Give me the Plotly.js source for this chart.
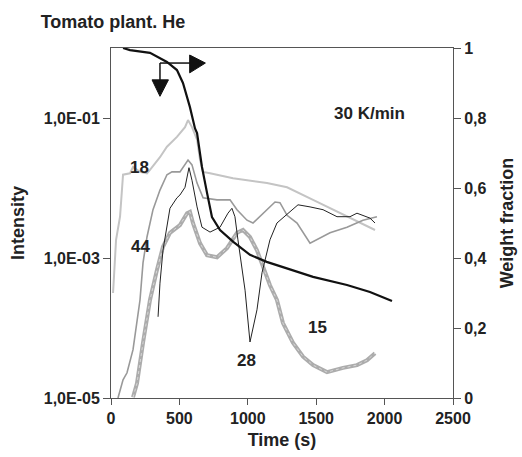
<!DOCTYPE html>
<html><head><meta charset="utf-8">
<script src="https://cdn.plot.ly/plotly-3.0.1.min.js"></script>
<style>html,body{margin:0;padding:0;background:#fff;}#chart{width:522px;height:457px;}</style>
</head><body><div id="chart"></div>
<script>
// m/z 18 (light grey)
const t18 = [15,37,66,88,139,161,212,263,285,358,409,482,541,563,592,629,651,673,724,892,1140,1287,1477,1674,1930];
const log18 = [-3.5,-2.74,-2.41,-1.81,-1.79,-1.70,-1.77,-1.79,-1.74,-1.56,-1.41,-1.27,-1.13,-1.03,-1.13,-1.31,-1.6,-1.77,-1.79,-1.86,-1.93,-1.99,-2.17,-2.36,-2.6];
// m/z 44 (medium grey)
const t44 = [51,88,117,161,212,234,263,307,358,409,446,504,563,592,629,673,775,870,921,994,1038,1111,1199,1235,1287,1360,1455,1601,1725,1842,1944];
const log44 = [-5.0,-4.74,-4.64,-4.31,-3.6,-3.07,-2.70,-2.31,-2.03,-1.81,-1.77,-1.77,-1.6,-1.67,-1.93,-2.14,-2.17,-2.17,-2.31,-2.46,-2.5,-2.36,-2.2,-2.21,-2.39,-2.5,-2.79,-2.64,-2.56,-2.46,-2.41];
// m/z 28 (black thin)
const t28 = [344,358,380,409,431,482,504,541,570,592,629,665,724,797,855,884,906,928,980,1016,1067,1104,1140,1162,1213,1287,1323,1367,1455,1550,1652,1747,1798,1842,1893,1930];
const log28 = [-3.84,-3.36,-2.89,-2.56,-2.29,-2.14,-2.1,-1.99,-1.71,-1.89,-2.27,-2.56,-2.63,-2.56,-2.36,-2.29,-2.41,-2.74,-3.46,-4.2,-3.74,-3.21,-2.89,-2.74,-2.5,-2.37,-2.31,-2.24,-2.27,-2.31,-2.41,-2.41,-2.36,-2.39,-2.43,-2.5];
// m/z 15 (hatched grey)
const t15 = [161,190,234,285,336,380,431,504,556,577,599,651,702,775,848,921,965,1016,1067,1111,1162,1213,1257,1330,1404,1477,1579,1696,1798,1871,1930];
const log15 = [-4.99,-4.79,-4.21,-3.6,-3.17,-2.84,-2.64,-2.53,-2.36,-2.34,-2.5,-2.79,-2.96,-2.99,-2.86,-2.64,-2.6,-2.7,-2.89,-3.13,-3.39,-3.6,-3.93,-4.21,-4.41,-4.53,-4.63,-4.57,-4.53,-4.46,-4.36];
// weight fraction (right axis)
const tW = [88,139,285,409,482,526,577,614,629,665,702,724,738,797,894,1016,1138,1257,1382,1477,1725,1893,2054];
const wW = [1.0,0.994,0.986,0.96,0.937,0.9,0.831,0.77,0.757,0.66,0.586,0.537,0.517,0.48,0.446,0.409,0.389,0.374,0.357,0.346,0.323,0.303,0.277];

// curve labels: [x (s), log10 intensity, text]
const curveLabels = [[205,-1.7,'18'],[212,-2.84,'44'],[987,-4.47,'28'],[1506,-3.99,'15'],[1886,-0.93,'30 K/min']];

const xTicks = [0,500,1000,1500,2000,2500];
const yLeftVals = [1e-5,1e-3,1e-1];
const yLeftText = ['1,0E-05','1,0E-03','1,0E-01'];
const yRightVals = [0,0.2,0.4,0.6,0.8,1];
const yRightText = ['0','0,2','0,4','0,6','0,8','1'];

const pw = a => a.map(v => Math.pow(10, v));
const F = 'Liberation Sans, Arial, sans-serif';
const TF = {family:F, size:16, color:'#222', weight:'bold'};

const traces = [
  {x:t18, y:pw(log18), mode:'lines', line:{color:'#c4c4c4', width:2}, yaxis:'y'},
  {x:t15, y:pw(log15), mode:'lines', line:{color:'#acacac', width:4}, yaxis:'y'},
  {x:t15, y:pw(log15), mode:'lines', line:{color:'#d8d8d8', width:1, dash:'dot'}, yaxis:'y'},
  {x:t44, y:pw(log44), mode:'lines', line:{color:'#999999', width:1.6}, yaxis:'y'},
  {x:t28, y:pw(log28), mode:'lines', line:{color:'#222222', width:1}, yaxis:'y'},
  {x:tW, y:wW, mode:'lines', line:{color:'#111111', width:2.2}, yaxis:'y2'}
];

const layout = {
  width:522, height:457,
  margin:{l:111, r:69, t:48, b:59},
  paper_bgcolor:'#fff', plot_bgcolor:'#fff',
  showlegend:false,
  font:{family:F, color:'#222'},
  title:{text:'<b>Tomato plant. He</b>', x:0.078, xanchor:'left', y:0.952, yanchor:'middle', font:{family:F, size:18, color:'#222'}},
  xaxis:{range:[0,2500], tickvals:xTicks, ticktext:xTicks.map(String), showgrid:false, zeroline:false,
    showline:true, linecolor:'#555', linewidth:1, mirror:true, ticks:'outside', ticklen:6, tickcolor:'#555',
    tickfont:TF,
    title:{text:'<b>Time (s)</b>', font:{family:F, size:18, color:'#222'}, standoff:7}},
  yaxis:{type:'log', range:[-5,0], tickvals:yLeftVals, ticktext:yLeftText, showgrid:false, zeroline:false,
    showline:true, linecolor:'#555', linewidth:1, ticks:'outside', ticklen:7, tickcolor:'#555',
    tickfont:TF,
    title:{text:'<b>Intensity</b>', font:{family:F, size:18, color:'#222'}, standoff:14}},
  yaxis2:{overlaying:'y', side:'right', range:[0,1], tickvals:yRightVals, ticktext:yRightText, showgrid:false, zeroline:false,
    showline:true, linecolor:'#555', linewidth:1, ticks:'outside', ticklen:7, tickcolor:'#555',
    tickfont:TF,
    title:{text:'<b>Weight fraction</b>', font:{family:F, size:18, color:'#222'}, standoff:14}},
  annotations: curveLabels.map(c => ({x:c[0], y:c[1], xref:'x', yref:'y', text:'<b>'+c[2]+'</b>', showarrow:false,
    font:{family:F, size:17, color:'#222'}})),
  shapes:[
    {type:'line', xref:'x', yref:'y2', x0:358, x1:580, y0:0.957, y1:0.957, line:{color:'#111', width:1.5}},
    {type:'path', xref:'x', yref:'y2', path:'M 575 0.98 L 690 0.957 L 575 0.929 Z', fillcolor:'#111', line:{color:'#111', width:1}},
    {type:'line', xref:'x', yref:'y2', x0:358, x1:358, y0:0.957, y1:0.905, line:{color:'#111', width:1.5}},
    {type:'path', xref:'x', yref:'y2', path:'M 300 0.909 L 420 0.909 L 358 0.862 Z', fillcolor:'#111', line:{color:'#111', width:1}}
  ]
};

Plotly.newPlot('chart', traces, layout, {staticPlot:true, displayModeBar:false});
</script>
</body></html>
